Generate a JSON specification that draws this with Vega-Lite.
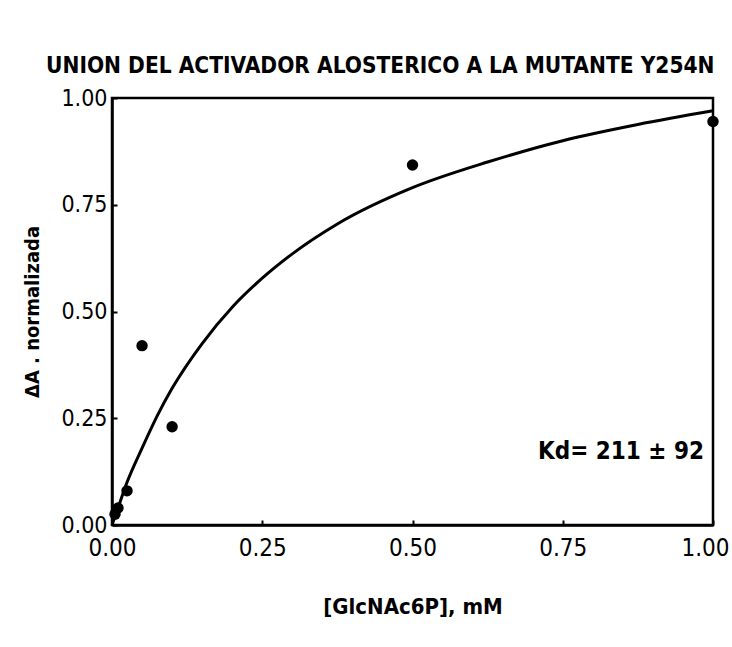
{
  "$schema": "https://vega.github.io/schema/vega-lite/v6.json",
  "width": 601,
  "height": 427,
  "autosize": {"type": "none"},
  "padding": {"left": 112, "top": 98, "right": 19, "bottom": 122},
  "background": "white",
  "config": {
    "view": {"stroke": "black", "strokeWidth": 2.5},
    "font": "DejaVu Sans Condensed, DejaVu Sans",
    "axis": {
      "grid": false,
      "domainColor": "black",
      "domainWidth": 2.5,
      "tickColor": "black",
      "tickWidth": 2,
      "tickSize": -5,
      "labelColor": "black",
      "titleColor": "black",
      "labelFlush": false,
      "labelOverlap": false,
      "labelFont": "DejaVu Sans Condensed, DejaVu Sans",
      "titleFont": "DejaVu Sans Condensed, DejaVu Sans",
      "titleFontWeight": "bold"
    }
  },
  "title": {
    "text": "UNION DEL ACTIVADOR ALOSTERICO A LA MUTANTE Y254N",
    "anchor": "start",
    "frame": "group",
    "dx": -66,
    "offset": 10,
    "fontSize": 22.5,
    "fontWeight": "bold",
    "color": "black",
    "font": "DejaVu Sans Condensed, DejaVu Sans"
  },
  "datasets": {
    "points": [
      {"conc": 0.005, "signal": 0.025},
      {"conc": 0.01, "signal": 0.04},
      {"conc": 0.025, "signal": 0.08},
      {"conc": 0.05, "signal": 0.42},
      {"conc": 0.1, "signal": 0.23},
      {"conc": 0.5, "signal": 0.843},
      {"conc": 1.0, "signal": 0.945}
    ],
    "fit": [
      {"conc": 0.0, "signal": 0.0},
      {"conc": 0.01, "signal": 0.04},
      {"conc": 0.025, "signal": 0.1},
      {"conc": 0.05, "signal": 0.18},
      {"conc": 0.075, "signal": 0.255},
      {"conc": 0.1, "signal": 0.32},
      {"conc": 0.15, "signal": 0.425},
      {"conc": 0.2, "signal": 0.51},
      {"conc": 0.25, "signal": 0.578},
      {"conc": 0.3, "signal": 0.635},
      {"conc": 0.375, "signal": 0.705},
      {"conc": 0.5, "signal": 0.79},
      {"conc": 0.625, "signal": 0.85},
      {"conc": 0.75, "signal": 0.9},
      {"conc": 0.875, "signal": 0.938},
      {"conc": 1.0, "signal": 0.97}
    ],
    "note": [
      {"conc": 0.985, "signal": 0.17, "label": "Kd= 211 ± 92"}
    ]
  },
  "layer": [
    {
      "data": {"name": "fit"},
      "mark": {"type": "line", "color": "black", "strokeWidth": 3, "interpolate": "monotone"},
      "encoding": {
        "x": {
          "field": "conc", "type": "quantitative",
          "scale": {"domain": [0, 1], "nice": false, "zero": false},
          "axis": {
            "title": "[GlcNAc6P], mM",
            "values": [0, 0.25, 0.5, 0.75, 1],
            "format": ".2f",
            "labelFontSize": 24,
            "labelPadding": 16,
            "labelOffset": {"expr": "datum.value == 1 ? -8 : 0"},
            "titleFontSize": 22,
            "titlePadding": 36
          }
        },
        "y": {
          "field": "signal", "type": "quantitative",
          "scale": {"domain": [0, 1], "nice": false, "zero": false},
          "axis": {
            "title": "ΔA . normalizada",
            "values": [0, 0.25, 0.5, 0.75, 1],
            "format": ".2f",
            "labelFontSize": 23,
            "labelPadding": 10,
            "titleFontSize": 20,
            "titlePadding": 18
          }
        }
      }
    },
    {
      "data": {"name": "points"},
      "mark": {"type": "point", "filled": true, "color": "black", "size": 130, "opacity": 1},
      "encoding": {
        "x": {"field": "conc", "type": "quantitative"},
        "y": {"field": "signal", "type": "quantitative"}
      }
    },
    {
      "data": {"name": "note"},
      "mark": {"type": "text", "align": "right", "baseline": "middle", "fontSize": 24, "fontWeight": "bold", "color": "black"},
      "encoding": {
        "x": {"field": "conc", "type": "quantitative"},
        "y": {"field": "signal", "type": "quantitative"},
        "text": {"field": "label"}
      }
    }
  ]
}
